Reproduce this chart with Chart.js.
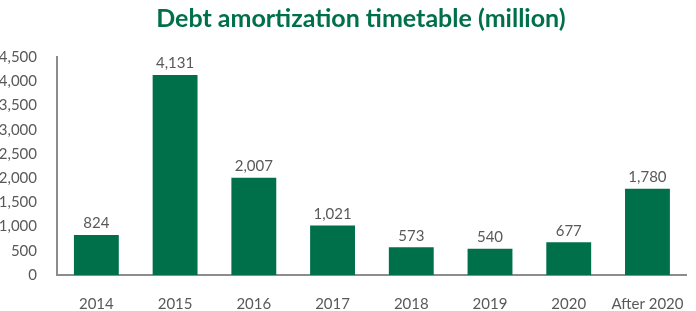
<!DOCTYPE html>
<html lang="en">
<head>
    <meta charset="UTF-8">
    <title>Debt amortization timetable</title>
    <script src="https://cdn.jsdelivr.net/npm/chart.js"></script>
    <style>
        body { margin: 0; padding: 0; background-color: white; }
        .wrap { width: 696px; height: 311px; }
    </style>
</head>
<body>
    <div class="wrap">
        <canvas id="deudaChart"></canvas>
    </div>
    <script>
        // Datos del gráfico
        const categorias = ['2014', '2015', '2016', '2017', '2018', '2019', '2020', 'After 2020'];
        const montos = [824, 4131, 2007, 1021, 573, 540, 677, 1780];
        const ejeYMax = 4500;
        const ejeYPaso = 500;
        const titulo = 'Debt amortization timetable (million)';

        const verde = '#00704A';
        const gris = '#595959';
        const fuente = 'Lato, "Open Sans", sans-serif';

        // Etiquetas encima de cada barra
        const etiquetasBarras = {
            id: 'etiquetasBarras',
            afterDatasetsDraw(chart) {
                const ctx = chart.ctx;
                const meta = chart.getDatasetMeta(0);
                ctx.save();
                ctx.font = '15px ' + fuente;
                ctx.fillStyle = gris;
                ctx.textAlign = 'center';
                ctx.textBaseline = 'bottom';
                meta.data.forEach((bar, i) => {
                    ctx.fillText(montos[i].toLocaleString('en-US'), bar.x, bar.y - 4);
                });
                ctx.restore();
            }
        };

        // Titulo dibujado a mano: en el original no queda centrado sobre el lienzo
        const tituloPlugin = {
            id: 'tituloPlugin',
            afterDraw(chart) {
                const ctx = chart.ctx;
                const area = chart.chartArea;
                ctx.save();
                ctx.font = 'bold 25px ' + fuente;
                ctx.fillStyle = verde;
                ctx.textAlign = 'center';
                ctx.textBaseline = 'middle';
                ctx.fillText(titulo, (area.left + area.right) / 2 - 11, 19);
                ctx.restore();
            }
        };

        const ctxDeuda = document.getElementById('deudaChart').getContext('2d');
        new Chart(ctxDeuda, {
            type: 'bar',
            data: {
                labels: categorias,
                datasets: [{
                    data: montos,
                    backgroundColor: verde,
                    barPercentage: 0.57,
                    categoryPercentage: 1
                }]
            },
            options: {
                responsive: true,
                maintainAspectRatio: false,
                animation: false,
                layout: { padding: { left: 0, right: 8, top: 57, bottom: 0 } },
                plugins: {
                    legend: { display: false },
                    tooltip: { enabled: false },
                    title: { display: false }
                },
                scales: {
                    x: {
                        afterFit(scale) { scale.height = 36; },
                        grid: { display: false },
                        border: { display: true, color: '#8c8c8c', width: 2 },
                        ticks: { color: gris, font: { family: fuente, size: 15 }, padding: 12, maxRotation: 0, autoSkip: false }
                    },
                    y: {
                        min: 0,
                        max: ejeYMax,
                        afterFit(scale) { scale.width = 57; },
                        grid: { display: false },
                        border: { display: true, color: '#8c8c8c', width: 2 },
                        ticks: {
                            stepSize: ejeYPaso,
                            color: gris,
                            font: { family: fuente, size: 15 },
                            padding: 12
                        }
                    }
                }
            },
            plugins: [etiquetasBarras, tituloPlugin]
        });
    </script>
</body>
</html>
